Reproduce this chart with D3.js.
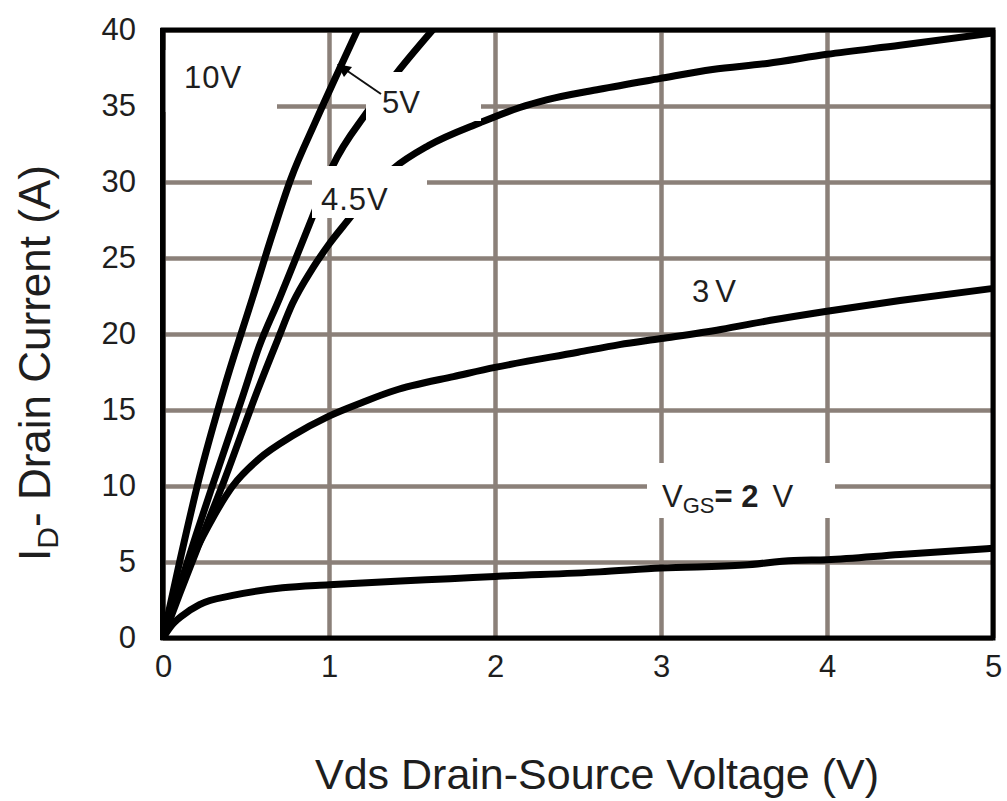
<!DOCTYPE html>
<html>
<head>
<meta charset="utf-8">
<script src="https://cdn.jsdelivr.net/npm/d3@7"></script>
<style>
  html, body { margin: 0; padding: 0; background: #fff; }
  svg { display: block; }
  text { font-family: "Liberation Sans", Arial, sans-serif; fill: #1e1e1e; }
</style>
</head>
<body>
<svg id="chart" width="1007" height="801"></svg>
<script>
// Output characteristics: drain current vs drain-source voltage, one curve per gate voltage
const xTicks = [0, 1, 2, 3, 4, 5];
const yTicks = [0, 5, 10, 15, 20, 25, 30, 35, 40];

// [Vds (V), Id (A)] points for each gate voltage
const curve10V = [[0,0],[0.1,5.0],[0.22,10.6],[0.37,16.5],[0.54,22.4],[0.66,26.6],[0.77,30.2],[0.92,34.0],[1.07,37.6],[1.18,40.2]];
const curve5V = [[0,0],[0.1,3.4],[0.2,6.8],[0.3,10.1],[0.48,15.9],[0.58,19.2],[0.70,22.3],[0.90,27.7],[1.02,31.0],[1.23,34.6],[1.41,37.2],[1.64,40.2]];
const curve45V = [[0,0],[0.1,2.9],[0.2,5.7],[0.37,10.4],[0.57,16.3],[0.69,19.6],[0.78,22.0],[0.9,24.3],[1.0,25.9],[1.13,27.7],[1.25,29.4],[1.39,30.9],[1.6,32.4],[1.91,33.9],[2.15,34.9],[2.31,35.4],[2.63,36.1],[2.99,36.8],[3.31,37.4],[3.64,37.8],[4.0,38.4],[4.44,39.0],[5.0,39.8]];
const curve3V = [[0,0],[0.1,3.2],[0.2,5.8],[0.3,7.9],[0.42,10.0],[0.58,11.8],[0.78,13.3],[1.0,14.6],[1.2,15.5],[1.4,16.3],[1.5,16.6],[1.75,17.2],[2.0,17.8],[2.5,18.8],[2.75,19.3],[3.0,19.7],[3.36,20.3],[3.66,20.9],[4.0,21.5],[4.44,22.2],[5.0,23.0]];
const curve2V = [[0,0],[0.05,0.8],[0.12,1.5],[0.22,2.2],[0.42,2.8],[0.72,3.3],[1.0,3.5],[1.43,3.75],[1.73,3.9],[2.0,4.05],[2.63,4.35],[3.0,4.6],[3.5,4.8],[3.8,5.1],[4.0,5.15],[4.44,5.5],[5.0,5.9]];

const curves = [curve10V, curve5V, curve45V, curve3V, curve2V];

const svg = d3.select("#chart");
const plotLeft = 163, plotRight = 993, plotTop = 30, plotBottom = 638;
const W = plotRight - plotLeft, H = plotBottom - plotTop;

const x = d3.scaleLinear().domain([0, 5]).range([0, W]);
const y = d3.scaleLinear().domain([0, 40]).range([H, 0]);

const g = svg.append("g").attr("transform", `translate(${plotLeft},${plotTop})`);

const gridColor = "#8b8079";

// gridlines + tick labels from the axes
const xAxis = g.append("g")
  .attr("transform", `translate(0,${H})`)
  .call(d3.axisBottom(x).tickValues(xTicks).tickSize(-H).tickPadding(17).tickFormat(d3.format("d")));
const yAxis = g.append("g")
  .call(d3.axisLeft(y).tickValues(yTicks).tickSize(-W).tickPadding(27).tickFormat(d3.format("d")));

[xAxis, yAxis].forEach(a => {
  a.select(".domain").remove();
  a.selectAll(".tick line").attr("stroke", gridColor).attr("stroke-width", 4.5);
  a.selectAll(".tick text").attr("font-size", 31).attr("fill", "#1e1e1e")
    .style("font-family", "'Liberation Sans', Arial, sans-serif");
});

// clip curves to the plotting area
svg.append("defs").append("clipPath").attr("id", "plotClip")
  .append("rect").attr("x", 0).attr("y", 0).attr("width", W).attr("height", H);

const line = d3.line()
  .x(d => x(d[0]))
  .y(d => y(d[1]))
  .curve(d3.curveMonotoneX);

g.append("g").attr("clip-path", "url(#plotClip)")
  .selectAll("path")
  .data(curves)
  .join("path")
  .attr("d", line)
  .attr("fill", "none")
  .attr("stroke", "#000")
  .attr("stroke-width", 7)
  .attr("stroke-linecap", "round")
  .attr("stroke-linejoin", "round");

// label backdrops (white boxes that interrupt grid and curves)
const boxes = [
  [163, 50, 277, 112],
  [366, 72, 481, 121],
  [312, 166, 427, 218],
  [647, 463, 835, 518]
];
svg.append("g").selectAll("rect").data(boxes).join("rect")
  .attr("x", d => d[0]).attr("y", d => d[1])
  .attr("width", d => d[2] - d[0]).attr("height", d => d[3] - d[1])
  .attr("fill", "#fff");

// curve labels
const lab = svg.append("g").attr("font-size", 31);
lab.append("text").attr("x", 184).attr("y", 88).attr("letter-spacing", 1).text("10V");
lab.append("text").attr("x", 382).attr("y", 113).text("5V");
lab.append("text").attr("x", 321).attr("y", 210).attr("letter-spacing", 1).text("4.5V");
lab.append("text").attr("x", 692).attr("y", 302).attr("letter-spacing", 6).text("3V");
const vgs = lab.append("text").attr("x", 662).attr("y", 507);
vgs.append("tspan").text("V");
vgs.append("tspan").attr("font-size", 22).attr("dy", 6).text("GS");
vgs.append("tspan").attr("dy", -6).attr("font-weight", "bold").text("= 2");
vgs.append("tspan").attr("dx", 14).text("V");

// leader from the 5V label to its curve
svg.append("line")
  .attr("x1", 381).attr("y1", 94).attr("x2", 346).attr("y2", 70)
  .attr("stroke", "#111").attr("stroke-width", 2);
svg.append("path")
  .attr("d", "M337,64 L352,67 L344,77 Z")
  .attr("fill", "#000");

// plot frame
svg.append("rect")
  .attr("x", plotLeft).attr("y", plotTop).attr("width", W).attr("height", H)
  .attr("fill", "none").attr("stroke", "#000").attr("stroke-width", 5);
svg.append("line")
  .attr("x1", plotLeft - 1).attr("x2", plotLeft - 1).attr("y1", plotTop - 2).attr("y2", plotBottom + 2)
  .attr("stroke", "#000").attr("stroke-width", 4);

// axis titles
svg.append("text")
  .attr("x", 597).attr("y", 789)
  .attr("text-anchor", "middle").attr("font-size", 43)
  .text("Vds Drain-Source Voltage (V)");

const yt = svg.append("text")
  .attr("transform", "translate(50,363) rotate(-90)")
  .attr("text-anchor", "middle").attr("font-size", 44);
yt.append("tspan").text("I");
yt.append("tspan").attr("font-size", 30).attr("dy", 8).text("D");
yt.append("tspan").attr("dy", -8).text("- Drain Current (A)");
</script>
</body>
</html>
